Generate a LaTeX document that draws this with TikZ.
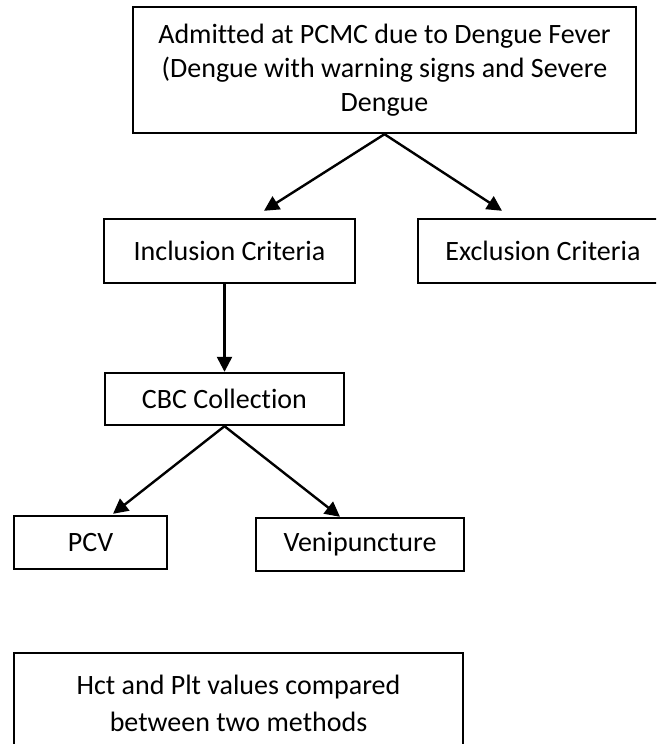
\documentclass[tikz,border=0pt]{standalone}
\usepackage{fontspec}
\setmainfont{Carlito}[Ligatures={NoCommon}]
\usetikzlibrary{arrows.meta}
\begin{document}
\begin{tikzpicture}[x=1pt,y=-1pt,
  box/.style={draw=black,line width=2.4pt,fill=white,inner sep=0pt,align=center,
    font=\fontsize{28}{34}\selectfont},
  conn/.style={line width=2.4pt,-{Triangle[length=15pt,width=15pt]}}]
\path[use as bounding box,clip] (0,0) rectangle (656,744);
\fill[white] (0,0) rectangle (656,744);
\node[box,minimum width=503pt,minimum height=126pt] (top) at (384.5,70)
  {\raisebox{-3pt}{\parbox{500pt}{\centering Admitted at PCMC due to Dengue Fever\\(Dengue with warning signs and Severe\\Dengue}}};
\node[box,minimum width=251pt,minimum height=64pt] (inc) at (229.5,251) {Inclusion Criteria};
\node[box,minimum width=250pt,minimum height=64pt] (exc) at (543,251) {Exclusion Criteria};
\node[box,minimum width=239pt,minimum height=52pt] (cbc) at (224.5,399) {CBC Collection};
\node[box,minimum width=153pt,minimum height=53pt] (pcv) at (90.5,542.5) {\raisebox{-4pt}{PCV}};
\node[box,minimum width=208pt,minimum height=53pt] (ven) at (360,544.5) {\raisebox{-4pt}{Venipuncture}};
\node[box,minimum width=449pt,minimum height=100pt,font=\fontsize{28}{37}\selectfont] (fin) at (238.5,703)
  {Hct and Plt values compared\\between two methods};
\draw[conn] (top.south) -- ([xshift=34.5pt,yshift=7pt]inc.north);
\draw[conn] (top.south) -- ([xshift=-41pt,yshift=7pt]exc.north);
\draw[conn] (inc.south -| cbc.north) -- (cbc.north);
\draw[conn] (cbc.south) -- ([xshift=22.5pt,yshift=1pt]pcv.north);
\draw[conn] (cbc.south) -- ([xshift=-20pt]ven.north);
\end{tikzpicture}
\end{document}
